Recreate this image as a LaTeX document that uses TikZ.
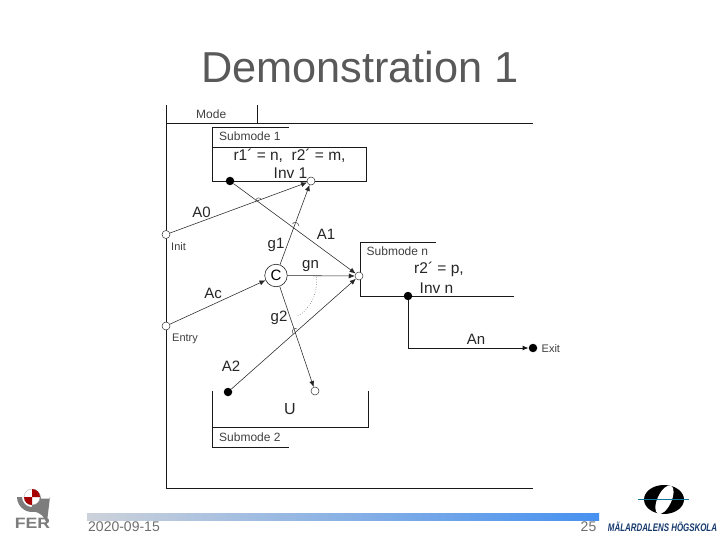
\documentclass[tikz,border=0pt]{standalone}
\usepackage{fontspec}
\usepackage{graphicx}
\setmainfont{Liberation Sans}
\usetikzlibrary{arrows.meta}
\definecolor{titlegray}{RGB}{89,89,89}
\definecolor{footgray}{RGB}{110,110,110}
\definecolor{mdhblue}{RGB}{22,58,110}
\definecolor{fergray}{RGB}{125,125,125}
\definecolor{barl}{RGB}{205,210,218}
\definecolor{barr}{RGB}{70,145,240}
\tikzset{
  wall/.style={line width=0.95pt,black!90},
  conn/.style={line width=0.55pt,black!85,-{Latex[length=6pt,width=5pt]}},
  hop/.style={line width=0.5pt,black!70},
  opendot/.style={circle,draw=black!80,fill=white,line width=0.5pt,inner sep=0pt,minimum size=8pt},
  fulldot/.style={circle,fill=black,inner sep=0pt,minimum size=8.5pt},
  small/.style={font=\fontsize{12}{14}\selectfont,text=black!75,inner sep=0pt},
  lab/.style={font=\fontsize{15}{17}\selectfont,text=black!85,inner sep=0pt},
  boxtext/.style={font=\fontsize{15.5}{18}\selectfont,text=black!85,inner sep=0pt},
  foot/.style={font=\fontsize{14}{16}\selectfont,text=footgray,inner sep=0pt}
}
\begin{document}
\begin{tikzpicture}[x=1pt,y=-1pt]
\useasboundingbox (0,0) rectangle (720,540);
\fill[white] (0,0) rectangle (720,540);
\node[inner sep=0pt,font=\fontsize{43.3}{48}\selectfont,text=titlegray] (title) at (360,67) {Demonstration 1};
% mode frame
\draw[wall] (166,105) -- (166,488) -- (533,488);
\draw[wall] (166,123.5) -- (533,123.5);
\draw[wall] (257,105) -- (257,123.5);
\node[small,anchor=west] (mode) at (196,114.5) {Mode};
% submode 1
\draw[wall] (289,127.5) -- (212,127.5) -- (212,181) -- (366.5,181) -- (366.5,147.5) -- (212,147.5);
\node[small,anchor=west] (s1) at (219,136.5) {Submode 1};
\node[boxtext] (r1) at (289.5,156) {r1´ = n,\ \ r2´ = m,};
\node[boxtext] (inv1) at (290.5,173) {Inv 1};
% submode n
\draw[wall] (436,242.5) -- (360,242.5) -- (360,296) -- (514,296);
\node[small,anchor=west] (sn) at (366.5,251.5) {Submode n};
\node[boxtext] (r2) at (439,269.5) {r2´ = p,};
\node[boxtext] (invn) at (436.5,288) {Inv n};
% submode 2
\draw[wall] (212,391) -- (212,447) -- (289,447);
\draw[wall] (212,427.5) -- (368.5,427.5) -- (368.5,391);
\node[small,anchor=west] (s2) at (219,437) {Submode 2};
\node[lab,font=\fontsize{16}{18}\selectfont] (u) at (290,409) {U};
% nodes
\node[opendot] (init) at (166,234.5) {};
\node[opendot] (entry) at (166,326) {};
\node[circle,draw=black!85,fill=white,line width=0.6pt,inner sep=0pt,minimum size=22.5pt,font=\fontsize{15}{17}\selectfont] (c) at (276,275.5) {C};
\node[opendot] (o1) at (311,181) {};
\node[opendot] (on) at (359,276) {};
\node[opendot] (ou) at (315,391) {};
\node[fulldot] (f1) at (230,181) {};
\node[fulldot] (fn) at (408,296) {};
\node[fulldot] (f2) at (228,392) {};
\node[fulldot] (exit) at (533,348) {};
\coordinate (bend) at (408,348);
% connectors
\draw[conn] (init) -- (o1);
\draw[conn] (f1) -- (on);
\draw[conn] (c) -- (o1);
\draw[conn] (c) -- (on);
\draw[conn] (c) -- (ou);
\draw[conn] (entry) -- (c);
\draw[conn] (f2) -- (on);
\draw[wall,-{Latex[length=6pt,width=5pt]}] (fn) -- (bend) -- (exit);
% line hops
\draw[hop] (255.5,202) .. controls (255.5,197) and (260,197) .. (261.5,199.5);
\draw[hop] (292.5,224) .. controls (294,221) and (298,222) .. (299,226);
\draw[hop] (293,334) .. controls (291,330) and (294,327) .. (297,329);
% dotted guard arc
\draw[line width=0.5pt,black!75,dotted] (316.5,277) .. controls (318,295) and (309,311) .. (296.5,316.5);
% labels
\node[lab] (a0) at (201.5,212.5) {A0};
\node[lab] (a1) at (326,234) {A1};
\node[lab] (g1) at (276,245) {g1};
\node[lab] (gn) at (310.5,266) {gn};
\node[lab] (g2) at (279,318) {g2};
\node[lab] (ac) at (213,293) {Ac};
\node[lab] (a2) at (231,366.5) {A2};
\node[lab] (an) at (476,339) {An};
\node[small,anchor=west,font=\fontsize{11}{13}\selectfont] (initl) at (171,247) {Init};
\node[small,anchor=west,font=\fontsize{11}{13}\selectfont] (entryl) at (172,339) {Entry};
\node[small,anchor=west,font=\fontsize{11}{13}\selectfont] (exitl) at (541.5,348.5) {Exit};
% footer
\shade[left color=barl,right color=barr] (87,513) rectangle (599,520);
\node[foot,anchor=west] (date) at (88,526.5) {2020-09-15};
\node[foot,anchor=east] (page) at (596.5,526.5) {25};
% FER logo
\fill[fergray] (17,497) arc[start angle=180,end angle=75,radius=15] -- ([shift={(75:10)}]32,497) arc[start angle=75,end angle=180,radius=10] -- cycle;
\fill[fergray] (32,511.5) arc[start angle=270,end angle=360,radius=14.5] -- (50,497) -- (50,498.5) -- (41,498.5) arc[start angle=0,end angle=-90,radius=9.5] -- cycle;
\fill[white,draw=fergray!70,line width=0.3pt] (32,497) circle[radius=8];
\fill[red!65!black] (32,497) -- (24,497) arc[start angle=180,end angle=90,radius=8] -- cycle;
\fill[red!65!black] (32,497) -- (40,497) arc[start angle=0,end angle=-90,radius=8] -- cycle;
\node[inner sep=0pt,font=\bfseries\fontsize{15}{16}\selectfont,text=fergray] (fer) at (32.5,523) {\scalebox{1.18}[1]{FER}};
% MDH logo
\fill[black] (664,499.5) ellipse[x radius=20,y radius=14.5];
\fill[white,rotate around={-25:(664,499.5)}] (664.5,499.5) ellipse[x radius=7,y radius=15.5];
\draw[line width=1.2pt,mdhblue!70!cyan] (638,499.5) -- (689,499.5);
\node[inner sep=0pt,font=\bfseries\itshape\fontsize{11}{12}\selectfont,text=mdhblue] (mdh) at (662.5,527) {\scalebox{0.72}[1]{MÄLARDALENS HÖGSKOLA}};
\end{tikzpicture}
\end{document}
